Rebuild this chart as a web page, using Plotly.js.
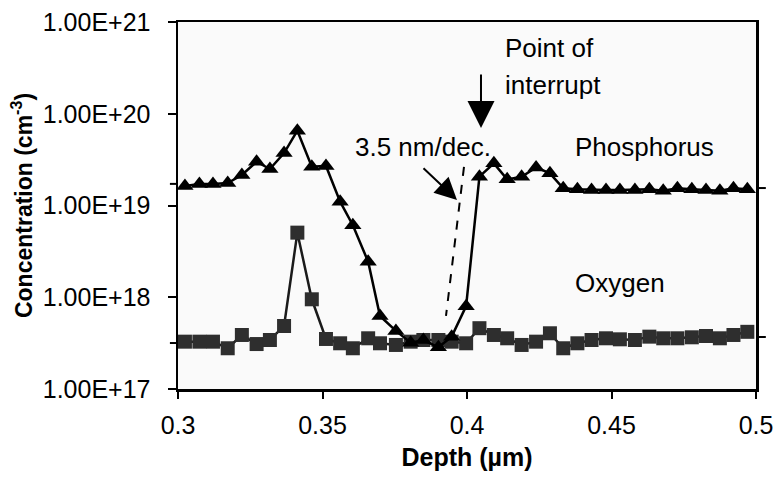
<!DOCTYPE html>
<html>
<head>
<meta charset="utf-8">
<script src="https://cdn.plot.ly/plotly-3.0.1.min.js"></script>
<style>html,body{margin:0;padding:0;background:#fff}#chart{width:776px;height:480px}</style>
</head>
<body>
<div id="chart"></div>
<script>
// Depth positions (µm)
var depth = [0.3024,0.3074,0.3121,0.3172,0.3221,0.3272,0.3318,0.3367,0.3413,0.3463,
             0.3512,0.3561,0.3605,0.3658,0.3699,0.3754,0.3805,0.3849,0.3901,0.3947,
             0.3997,0.4043,0.4093,0.4139,0.4189,0.4239,0.4287,0.4333,0.4382,0.4431,
             0.4481,0.4529,0.4581,0.4631,0.4679,0.4728,0.4778,0.4827,0.4875,0.4922,0.4970];
// Phosphorus concentration (cm^-3)
var phosphorus = [1.63e19,1.72e19,1.72e19,1.76e19,2.15e19,3.0e19,2.5e19,3.73e19,6.53e19,2.65e19,
                  2.70e19,1.10e19,6.1e18,2.44e18,6.25e17,4.3e17,3.2e17,3.42e17,2.85e17,3.72e17,
                  8.0e17,2.06e19,2.88e19,1.93e19,2.06e19,2.6e19,2.24e19,1.54e19,1.50e19,1.48e19,
                  1.48e19,1.48e19,1.48e19,1.50e19,1.45e19,1.54e19,1.50e19,1.48e19,1.45e19,1.54e19,1.50e19];
// Oxygen concentration (cm^-3)
var oxygen = [3.28e17,3.28e17,3.28e17,2.78e17,3.88e17,3.09e17,3.42e17,4.86e17,5.06e18,9.5e17,
              3.51e17,3.15e17,2.78e17,3.57e17,3.15e17,3.02e17,3.28e17,3.42e17,3.42e17,3.28e17,
              3.15e17,4.6e17,3.88e17,3.57e17,3.02e17,3.28e17,4.05e17,2.78e17,3.15e17,3.42e17,
              3.57e17,3.48e17,3.42e17,3.72e17,3.57e17,3.57e17,3.66e17,3.78e17,3.57e17,3.88e17,4.2e17];
// Axis ticks
var xTicks = [0.3,0.35,0.4,0.45,0.5];
var xTickText = ['0.3','0.35','0.4','0.45','0.5'];
var yTicks = [1e17,1e18,1e19,1e20,1e21];
var yTickText = ['1.00E+17','1.00E+18','1.00E+19','1.00E+20','1.00E+21'];
// Slope guide (3.5 nm/dec.) end points
var slopeX = [0.39896,0.39273];
var slopeY = [2.63e19,6.25e17];
// Reference level marks outside the frame (left value, right value)
var pLevel = [1.72e19,1.55e19];
var oLevel = [3.17e17,3.69e17];

var FONT = 'Liberation Sans, Arial, Helvetica, sans-serif';

var traces = [
  {x: depth, y: oxygen, type: 'scatter', mode: 'lines+markers', name: 'Oxygen',
   line: {color: '#1a1a1a', width: 2.5},
   marker: {symbol: 'square', size: 14, color: '#2e2e2e', line: {width: 0}}},
  {x: depth, y: phosphorus, type: 'scatter', mode: 'lines+markers', name: 'Phosphorus',
   line: {color: '#000', width: 2.5},
   marker: {symbol: 'triangle-up', size: 15, color: '#000', line: {width: 0}}}
];

var L10 = function(v){ return Math.log10(v); };

var layout = {
  width: 776, height: 480,
  margin: {l: 178, r: 20, t: 22, b: 91},
  paper_bgcolor: '#ffffff',
  plot_bgcolor: '#fafafa',
  showlegend: false,
  font: {family: FONT, color: '#000'},
  xaxis: {
    range: [0.3, 0.5], tickvals: xTicks, ticktext: xTickText,
    showgrid: false, zeroline: false,
    showline: true, linecolor: '#000', linewidth: 2.5, mirror: true,
    ticks: 'outside', ticklen: 7, tickwidth: 2, tickcolor: '#000',
    tickfont: {size: 25, family: FONT}, ticklabelstandoff: 5,
    title: {text: 'Depth (µm)', font: {size: 25, family: FONT, weight: 'bold'}, standoff: 11}
  },
  yaxis: {
    type: 'log', range: [17, 21], tickvals: yTicks, ticktext: yTickText,
    showgrid: false, zeroline: false,
    showline: true, linecolor: '#000', linewidth: 2.5, mirror: true,
    ticks: 'outside', ticklen: 8, tickwidth: 2, tickcolor: '#000',
    tickfont: {size: 25, family: FONT}, ticklabelstandoff: 12,
    title: {text: 'Concentration (cm<sup>-3</sup>)', font: {size: 23, family: FONT, weight: 'bold'}, standoff: 4}
  },
  shapes: [
    {type: 'line', xref: 'x', yref: 'y', x0: slopeX[0], y0: slopeY[0], x1: slopeX[1], y1: slopeY[1],
     line: {color: '#000', width: 2, dash: 'dash'}},
    {type: 'line', xref: 'paper', yref: 'y', x0: -0.014, x1: 0, y0: pLevel[0], y1: pLevel[0], line: {color: '#000', width: 2}},
    {type: 'line', xref: 'paper', yref: 'y', x0: 1, x1: 1.017, y0: pLevel[1], y1: pLevel[1], line: {color: '#000', width: 2}},
    {type: 'line', xref: 'paper', yref: 'y', x0: -0.014, x1: 0, y0: oLevel[0], y1: oLevel[0], line: {color: '#000', width: 2}},
    {type: 'line', xref: 'paper', yref: 'y', x0: 1, x1: 1.017, y0: oLevel[1], y1: oLevel[1], line: {color: '#000', width: 2}}
  ],
  annotations: [
    {text: 'Point of', x: 0.4125, y: 20.717, xref: 'x', yref: 'y', xanchor: 'left', yanchor: 'middle',
     showarrow: false, font: {size: 26, family: FONT}},
    {text: 'interrupt', x: 0.4125, y: 20.313, xref: 'x', yref: 'y', xanchor: 'left', yanchor: 'middle',
     showarrow: false, font: {size: 26, family: FONT}},
    {text: '', x: 0.40484, y: L10(7.0e19), xref: 'x', yref: 'y', showarrow: true,
     ax: 0, ay: -55, axref: 'pixel', ayref: 'pixel', arrowhead: 2, arrowsize: 2.7, arrowwidth: 2, arrowcolor: '#000'},
    {text: '3.5 nm/dec.', x: 0.36055, y: 19.638, xref: 'x', yref: 'y', xanchor: 'left', yanchor: 'middle',
     showarrow: false, font: {size: 26, family: FONT}},
    {text: '', x: 0.39654, y: L10(1.15e19), xref: 'x', yref: 'y', showarrow: true,
     ax: -35, ay: -33, arrowhead: 2, arrowsize: 2.2, arrowwidth: 2, arrowcolor: '#000'},
    {text: 'Phosphorus', x: 0.43668, y: 19.638, xref: 'x', yref: 'y', xanchor: 'left', yanchor: 'middle',
     showarrow: false, font: {size: 26, family: FONT}},
    {text: 'Oxygen', x: 0.43668, y: 18.155, xref: 'x', yref: 'y', xanchor: 'left', yanchor: 'middle',
     showarrow: false, font: {size: 26, family: FONT}}
  ]
};

Plotly.newPlot('chart', traces, layout, {staticPlot: true, displayModeBar: false});
</script>
</body>
</html>
